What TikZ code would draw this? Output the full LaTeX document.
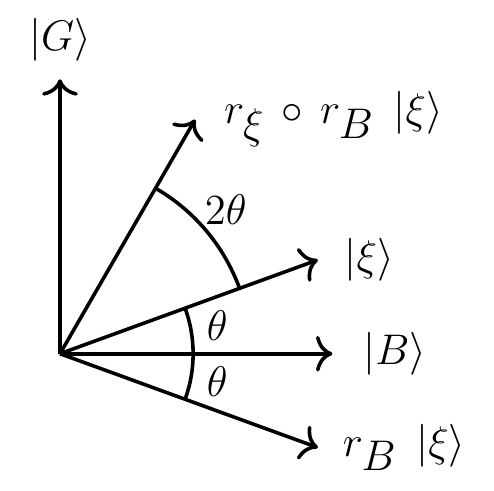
\documentclass[tikz,border=0pt]{standalone}
\usetikzlibrary{positioning, arrows.meta}
\DeclareMathSizes{12}{12}{11.5}{8}

\begin{document}
\begin{tikzpicture}
\tikzstyle{every node}=[inner sep=0.118cm, font=\large]
\tikzstyle{vec}=[line width=1pt,-{Computer Modern Rightarrow[length=4.6pt,width=10pt]}]
\tikzstyle{angarc}=[line width=1pt]
\useasboundingbox (-0.59,-1.35) rectangle (4.27,3.48);

\coordinate (O) at (0,0);
\coordinate (G) at (90:2.7);
\coordinate (B) at (0:2.68);
\coordinate (X) at (20:2.7);
\coordinate (RB) at (-20:2.7);
\coordinate (RX) at (60:2.66);

\draw[vec] (O) -- (G);
\draw[vec] (O) -- (B);
\draw[vec] (O) -- (X);
\draw[vec] (O) -- (RB);
\draw[vec] (O) -- (RX);

\node[above=0.05cm of G] (lG) {$|G\rangle$};
\node[right=0.18cm of B] (lB) {$|B\rangle$};
\node[right=0.14cm of X] (lX) {$|\xi\rangle$};
\node[right=0.12cm of RB] (lRB) {$r_B\;\,|\xi\rangle$};
\node[right=0.16cm of RX] (lRX) {$r_\xi\,\circ\, r_B\;\,|\xi\rangle$};

% angle arcs
\draw[angarc] (-20:1.31) arc[start angle=-20, end angle=20, radius=1.31];
\draw[angarc] (20:1.88) arc[start angle=20, end angle=60, radius=1.88];
\node (t1) at (10:1.57) {$\theta$};
\node (t2) at (-10:1.57) {$\theta$};
\node (t3) at (41:2.16) {$2\theta$};
\end{tikzpicture}
\end{document}
